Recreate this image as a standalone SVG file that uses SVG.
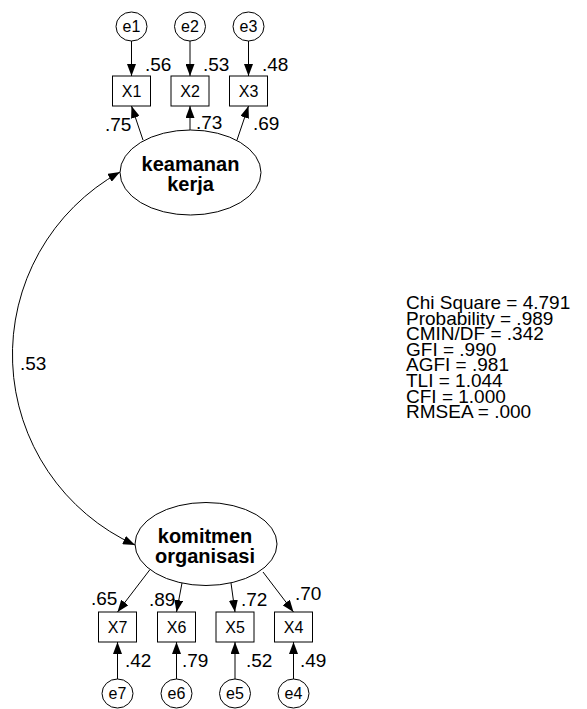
<svg xmlns="http://www.w3.org/2000/svg" width="587" height="709" viewBox="0 0 587 709">
  <style>
    .shape { fill: #fff; stroke: #000; stroke-width: 1; }
    .path { fill: none; stroke: #000; stroke-width: 1; }
    text { font-family: "Liberation Sans", Arial, sans-serif; fill: #000; }
    .lat { font-size: 20px; font-weight: bold; text-anchor: middle; }
    .obs { font-size: 16px; text-anchor: middle; }
    .err { font-size: 16px; text-anchor: middle; }
    .coef { font-size: 19px; }
    .fit { font-size: 19px; }
  </style>
  <defs>
    <marker id="arrow" viewBox="0 0 12 9" refX="12" refY="4.5" markerWidth="12" markerHeight="9" markerUnits="userSpaceOnUse" orient="auto-start-reverse">
      <path d="M0,0 L12,4.5 L0,9 z" fill="#000"/>
    </marker>
  </defs>

  <!-- connectors -->
  <g id="connectors">
    <!-- error terms to indicators (top) -->
    <line class="path" x1="131.5" y1="41" x2="131.5" y2="76" marker-end="url(#arrow)"/>
    <line class="path" x1="190" y1="41" x2="190" y2="76" marker-end="url(#arrow)"/>
    <line class="path" x1="248.5" y1="41" x2="248.5" y2="76" marker-end="url(#arrow)"/>
    <!-- keamanan kerja loadings -->
    <line class="path" x1="143" y1="140" x2="131.5" y2="106" marker-end="url(#arrow)"/>
    <line class="path" x1="190" y1="130" x2="190" y2="106" marker-end="url(#arrow)"/>
    <line class="path" x1="237" y1="140" x2="248.5" y2="106" marker-end="url(#arrow)"/>
    <!-- covariance between latent variables -->
    <path class="path" d="M120,172 A209,209 0 0 0 135,545" marker-start="url(#arrow)" marker-end="url(#arrow)"/>
    <!-- komitmen organisasi loadings -->
    <line class="path" x1="150" y1="569.5" x2="117.5" y2="612" marker-end="url(#arrow)"/>
    <line class="path" x1="182" y1="583" x2="176.5" y2="612" marker-end="url(#arrow)"/>
    <line class="path" x1="231" y1="583" x2="235" y2="612" marker-end="url(#arrow)"/>
    <line class="path" x1="263" y1="572" x2="293.5" y2="612" marker-end="url(#arrow)"/>
    <!-- error terms to indicators (bottom) -->
    <line class="path" x1="117.5" y1="679" x2="117.5" y2="642" marker-end="url(#arrow)"/>
    <line class="path" x1="176.5" y1="679" x2="176.5" y2="642" marker-end="url(#arrow)"/>
    <line class="path" x1="235" y1="679" x2="235" y2="642" marker-end="url(#arrow)"/>
    <line class="path" x1="293.5" y1="679" x2="293.5" y2="642" marker-end="url(#arrow)"/>
  </g>

  <!-- error terms -->
  <g id="e1"><ellipse class="shape" cx="131.5" cy="26.5" rx="15.5" ry="14.5"/><text class="err" x="131.5" y="32">e1</text></g>
  <g id="e2"><ellipse class="shape" cx="190" cy="26.5" rx="15.5" ry="14.5"/><text class="err" x="190" y="32">e2</text></g>
  <g id="e3"><ellipse class="shape" cx="248.5" cy="26.5" rx="15.5" ry="14.5"/><text class="err" x="248.5" y="32">e3</text></g>
  <g id="e7"><ellipse class="shape" cx="117.5" cy="693.5" rx="15.5" ry="14.5"/><text class="err" x="117.5" y="699">e7</text></g>
  <g id="e6"><ellipse class="shape" cx="176.5" cy="693.5" rx="15.5" ry="14.5"/><text class="err" x="176.5" y="699">e6</text></g>
  <g id="e5"><ellipse class="shape" cx="235" cy="693.5" rx="15.5" ry="14.5"/><text class="err" x="235" y="699">e5</text></g>
  <g id="e4"><ellipse class="shape" cx="293.5" cy="693.5" rx="15.5" ry="14.5"/><text class="err" x="293.5" y="699">e4</text></g>

  <!-- observed indicators -->
  <g id="X1"><rect class="shape" x="112.5" y="76" width="38" height="30"/><text class="obs" x="131.5" y="97">X1</text></g>
  <g id="X2"><rect class="shape" x="171" y="76" width="38" height="30"/><text class="obs" x="190" y="97">X2</text></g>
  <g id="X3"><rect class="shape" x="229.5" y="76" width="38" height="30"/><text class="obs" x="248.5" y="97">X3</text></g>
  <g id="X7"><rect class="shape" x="98.5" y="612" width="38" height="30"/><text class="obs" x="117.5" y="633">X7</text></g>
  <g id="X6"><rect class="shape" x="157.5" y="612" width="38" height="30"/><text class="obs" x="176.5" y="633">X6</text></g>
  <g id="X5"><rect class="shape" x="216" y="612" width="38" height="30"/><text class="obs" x="235" y="633">X5</text></g>
  <g id="X4"><rect class="shape" x="274.5" y="612" width="38" height="30"/><text class="obs" x="293.5" y="633">X4</text></g>

  <!-- latent variables -->
  <g id="keamanan-kerja">
    <ellipse class="shape" cx="190.5" cy="172.5" rx="70.5" ry="42.5"/>
    <text class="lat" x="190.5" y="171">keamanan</text>
    <text class="lat" x="190.5" y="191">kerja</text>
  </g>
  <g id="komitmen-organisasi">
    <ellipse class="shape" cx="206" cy="544" rx="71" ry="41.5"/>
    <text class="lat" x="205" y="543">komitmen</text>
    <text class="lat" x="205" y="563">organisasi</text>
  </g>

  <!-- estimates -->
  <g id="estimates" class="coef">
    <text class="coef" x="145" y="71">.56</text>
    <text class="coef" x="203" y="71">.53</text>
    <text class="coef" x="262" y="71">.48</text>
    <text class="coef" x="105" y="131">.75</text>
    <text class="coef" x="196" y="129">.73</text>
    <text class="coef" x="253" y="130">.69</text>
    <text class="coef" x="20" y="370">.53</text>
    <text class="coef" x="91" y="605">.65</text>
    <text class="coef" x="149" y="606">.89</text>
    <text class="coef" x="241" y="606">.72</text>
    <text class="coef" x="295" y="600">.70</text>
    <text class="coef" x="125" y="667">.42</text>
    <text class="coef" x="182" y="667">.79</text>
    <text class="coef" x="246" y="667">.52</text>
    <text class="coef" x="300" y="667">.49</text>
  </g>

  <!-- model fit summary -->
  <g id="fit-indices">
    <text class="fit" x="406" y="309">Chi Square = 4.791</text>
    <text class="fit" x="406" y="324.6">Probability = .989</text>
    <text class="fit" x="406" y="340.2">CMIN/DF = .342</text>
    <text class="fit" x="406" y="355.8">GFI = .990</text>
    <text class="fit" x="406" y="371.4">AGFI = .981</text>
    <text class="fit" x="406" y="387">TLI = 1.044</text>
    <text class="fit" x="406" y="402.6">CFI = 1.000</text>
    <text class="fit" x="406" y="418.2">RMSEA = .000</text>
  </g>
</svg>
